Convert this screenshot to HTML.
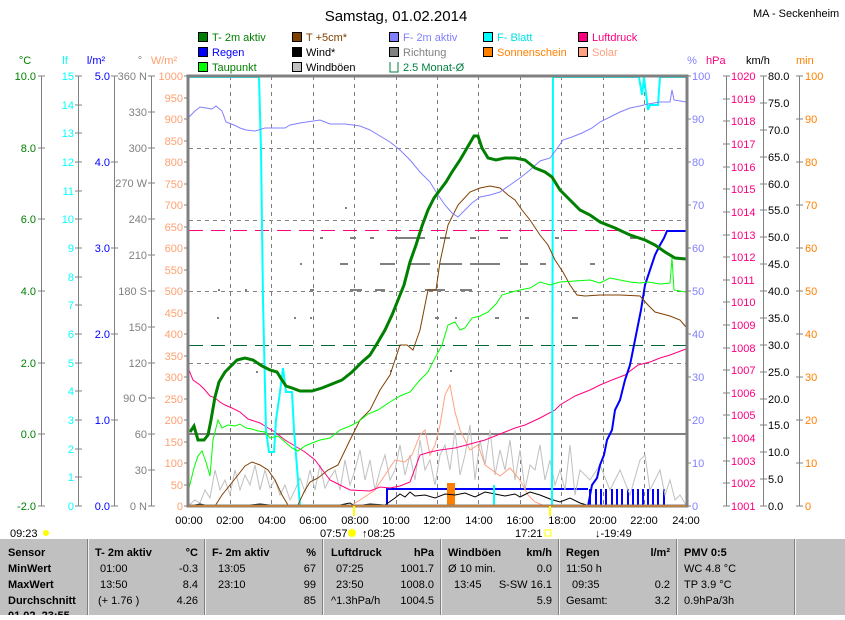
<!DOCTYPE html>
<html><head><meta charset="utf-8"><style>
body{margin:0;background:#fff;width:845px;height:615px;overflow:hidden;font-family:"Liberation Sans",sans-serif;}
svg text{font-family:"Liberation Sans",sans-serif;}
</style></head><body>
<svg width="845" height="615" viewBox="0 0 845 615" xmlns="http://www.w3.org/2000/svg">
<rect width="845" height="615" fill="#fff"/>
<text x="396" y="21" font-size="15" text-anchor="middle" fill="#000">Samstag, 01.02.2014</text>
<text x="753" y="17" font-size="11" fill="#000">MA - Seckenheim</text>
<!-- legend -->
<g font-size="11" stroke="#000" stroke-width="1">
<rect x="198.5" y="32.5" width="9" height="9" fill="#008000"/><rect x="292.5" y="32.5" width="9" height="9" fill="#804000"/><rect x="389.5" y="32.5" width="9" height="9" fill="#8080ff"/><rect x="483.5" y="32.5" width="9" height="9" fill="#00ffff"/><rect x="578.5" y="32.5" width="9" height="9" fill="#ff0080"/>
<rect x="198.5" y="47.5" width="9" height="9" fill="#0000ff"/><rect x="292.5" y="47.5" width="9" height="9" fill="#000"/><rect x="389.5" y="47.5" width="9" height="9" fill="#808080"/><rect x="483.5" y="47.5" width="9" height="9" fill="#ff8000"/><rect x="578.5" y="47.5" width="9" height="9" fill="#ffa080"/>
<rect x="198.5" y="62.5" width="9" height="9" fill="#00ff00"/><rect x="292.5" y="62.5" width="9" height="9" fill="#c0c0c0"/>
</g>
<path d="M390 62v10h8V62" fill="none" stroke="#008040"/>
<g font-size="11" stroke="none">
<text x="212" y="41" fill="#008000">T- 2m aktiv</text><text x="306" y="41" fill="#804000">T +5cm*</text><text x="403" y="41" fill="#8080ff">F- 2m aktiv</text><text x="497" y="41" fill="#00e0e0">F- Blatt</text><text x="592" y="41" fill="#ff0080">Luftdruck</text>
<text x="212" y="56" fill="#0000ff">Regen</text><text x="306" y="56" fill="#000">Wind*</text><text x="403" y="56" fill="#808080">Richtung</text><text x="497" y="56" fill="#ff8000">Sonnenschein</text><text x="592" y="56" fill="#ffa080">Solar</text>
<text x="212" y="71" fill="#008000">Taupunkt</text><text x="306" y="71" fill="#000">Windböen</text><text x="403" y="71" fill="#008040">2.5 Monat-Ø</text>
</g>
<!-- axis headers -->
<g font-size="11">
<text x="25" y="64" fill="#008000" text-anchor="middle">°C</text><text x="65" y="64" fill="#00ffff" text-anchor="middle">lf</text><text x="96" y="64" fill="#0000ff" text-anchor="middle">l/m²</text><text x="140" y="64" fill="#808080" text-anchor="middle">°</text><text x="164" y="64" fill="#ffa070" text-anchor="middle">W/m²</text>
<text x="692" y="64" fill="#8080ff" text-anchor="middle">%</text><text x="706" y="64" fill="#ff0080" text-anchor="start">hPa</text><text x="746" y="64" fill="#000">km/h</text><text x="796" y="64" fill="#ff8000">min</text>
</g>
<!-- axis lines -->
<g stroke="#808080" stroke-width="1">
<line x1="41.5" y1="76" x2="41.5" y2="506"/><line x1="78.5" y1="76" x2="78.5" y2="506"/><line x1="114.5" y1="76" x2="114.5" y2="506"/><line x1="151.5" y1="76" x2="151.5" y2="506"/>
<line x1="726.5" y1="76" x2="726.5" y2="506"/><line x1="763.5" y1="76" x2="763.5" y2="506"/><line x1="799.5" y1="76" x2="799.5" y2="506"/>
</g>
<!-- left tick labels -->
<g font-size="11" fill="#008000" text-anchor="end">
<text x="36" y="80">10.0</text><text x="36" y="152">8.0</text><text x="36" y="223">6.0</text><text x="36" y="295">4.0</text><text x="36" y="367">2.0</text><text x="36" y="438">0.0</text><text x="36" y="510">-2.0</text></g>
<g stroke="#808080"><path d="M38 76h7M38 148h7M38 219h7M38 291h7M38 363h7M38 434h7M38 506h7"/>
<path d="M75 76h7M75 105h7M75 133h7M75 162h7M75 191h7M75 219h7M75 248h7M75 277h7M75 305h7M75 334h7M75 363h7M75 391h7M75 420h7M75 449h7M75 477h7M75 506h7"/>
<path d="M111 76h7M111 162h7M111 248h7M111 334h7M111 420h7M111 506h7"/>
<path d="M148 76h7M148 112h7M148 148h7M148 183h7M148 219h7M148 255h7M148 291h7M148 327h7M148 363h7M148 398h7M148 434h7M148 470h7M148 506h7"/>
<path d="M723 76h7M723 99h7M723 121h7M723 144h7M723 167h7M723 189h7M723 212h7M723 235h7M723 257h7M723 280h7M723 302h7M723 325h7M723 348h7M723 370h7M723 393h7M723 415h7M723 438h7M723 461h7M723 483h7M723 506h7"/>
<path d="M760 76h7M760 103h7M760 130h7M760 157h7M760 184h7M760 210h7M760 237h7M760 264h7M760 291h7M760 318h7M760 345h7M760 372h7M760 399h7M760 425h7M760 452h7M760 479h7M760 506h7"/>
<path d="M796 76h7M796 119h7M796 162h7M796 205h7M796 248h7M796 291h7M796 334h7M796 377h7M796 420h7M796 463h7M796 506h7"/>
<path d="M184 76h4M184 98h4M184 119h4M184 141h4M184 162h4M184 184h4M184 205h4M184 227h4M184 248h4M184 270h4M184 291h4M184 313h4M184 334h4M184 356h4M184 377h4M184 399h4M184 420h4M184 442h4M184 463h4M184 485h4M184 506h4"/>
<path d="M687 76h4M687 119h4M687 162h4M687 205h4M687 248h4M687 291h4M687 334h4M687 377h4M687 420h4M687 463h4M687 506h4"/></g>
<g font-size="11" fill="#00ffff" text-anchor="end">
<text x="74" y="80">15</text><text x="74" y="109">14</text><text x="74" y="137">13</text><text x="74" y="166">12</text><text x="74" y="195">11</text><text x="74" y="223">10</text><text x="74" y="252">9</text><text x="74" y="281">8</text><text x="74" y="309">7</text><text x="74" y="338">6</text><text x="74" y="367">5</text><text x="74" y="395">4</text><text x="74" y="424">3</text><text x="74" y="453">2</text><text x="74" y="481">1</text><text x="74" y="510">0</text></g>
<g font-size="11" fill="#0000ff" text-anchor="end">
<text x="110" y="80">5.0</text><text x="110" y="166">4.0</text><text x="110" y="252">3.0</text><text x="110" y="338">2.0</text><text x="110" y="424">1.0</text><text x="110" y="510">0.0</text></g>
<g font-size="11" fill="#808080" text-anchor="end">
<text x="147" y="80">360 N</text><text x="147" y="116">330</text><text x="147" y="152">300</text><text x="147" y="187">270 W</text><text x="147" y="223">240</text><text x="147" y="259">210</text><text x="147" y="295">180 S</text><text x="147" y="331">150</text><text x="147" y="367">120</text><text x="147" y="402">90  O</text><text x="147" y="438">60</text><text x="147" y="474">30</text><text x="147" y="510">0   N</text></g>
<g font-size="11" fill="#ffa070" text-anchor="end">
<text x="183" y="80">1000</text><text x="183" y="102">950</text><text x="183" y="123">900</text><text x="183" y="145">850</text><text x="183" y="166">800</text><text x="183" y="188">750</text><text x="183" y="209">700</text><text x="183" y="231">650</text><text x="183" y="252">600</text><text x="183" y="274">550</text><text x="183" y="295">500</text><text x="183" y="317">450</text><text x="183" y="338">400</text><text x="183" y="360">350</text><text x="183" y="381">300</text><text x="183" y="403">250</text><text x="183" y="424">200</text><text x="183" y="446">150</text><text x="183" y="467">100</text><text x="183" y="489">50</text><text x="183" y="510">0</text></g>
<g font-size="11" fill="#8080ff">
<text x="692" y="80">100</text><text x="692" y="123">90</text><text x="692" y="166">80</text><text x="692" y="209">70</text><text x="692" y="252">60</text><text x="692" y="295">50</text><text x="692" y="338">40</text><text x="692" y="381">30</text><text x="692" y="424">20</text><text x="692" y="467">10</text><text x="692" y="510">0</text></g>
<g font-size="11" fill="#ff0080">
<text x="731" y="80">1020</text><text x="731" y="103">1019</text><text x="731" y="125">1018</text><text x="731" y="148">1017</text><text x="731" y="171">1016</text><text x="731" y="193">1015</text><text x="731" y="216">1014</text><text x="731" y="239">1013</text><text x="731" y="261">1012</text><text x="731" y="284">1011</text><text x="731" y="306">1010</text><text x="731" y="329">1009</text><text x="731" y="352">1008</text><text x="731" y="374">1007</text><text x="731" y="397">1006</text><text x="731" y="419">1005</text><text x="731" y="442">1004</text><text x="731" y="465">1003</text><text x="731" y="487">1002</text><text x="731" y="510">1001</text></g>
<g font-size="11" fill="#000">
<text x="768" y="80">80.0</text><text x="768" y="107">75.0</text><text x="768" y="134">70.0</text><text x="768" y="161">65.0</text><text x="768" y="188">60.0</text><text x="768" y="214">55.0</text><text x="768" y="241">50.0</text><text x="768" y="268">45.0</text><text x="768" y="295">40.0</text><text x="768" y="322">35.0</text><text x="768" y="349">30.0</text><text x="768" y="376">25.0</text><text x="768" y="403">20.0</text><text x="768" y="429">15.0</text><text x="768" y="456">10.0</text><text x="768" y="483">5.0</text><text x="768" y="510">0.0</text></g>
<g font-size="11" fill="#ff8000">
<text x="805" y="80">100</text><text x="805" y="123">90</text><text x="805" y="166">80</text><text x="805" y="209">70</text><text x="805" y="252">60</text><text x="805" y="295">50</text><text x="805" y="338">40</text><text x="805" y="381">30</text><text x="805" y="424">20</text><text x="805" y="467">10</text><text x="805" y="510">0</text></g>
<!-- grid -->
<g stroke="#808080" stroke-dasharray="4,4" stroke-width="1">
<path d="M230.5 76v430M271.5 76v430M313.5 76v430M354.5 76v430M396.5 76v430M437.5 76v430M478.5 76v430M520.5 76v430M561.5 76v430M603.5 76v430M644.5 76v430"/>
<path d="M189 148.5h497M189 220.5h497M189 291.5h497M189 363.5h497"/></g>
<line x1="189" y1="230.5" x2="686" y2="230.5" stroke="#ff0080" stroke-dasharray="14,8"/>
<line x1="189" y1="345.5" x2="686" y2="345.5" stroke="#006633" stroke-dasharray="14,8"/>
<line x1="189" y1="434" x2="686" y2="434" stroke="#808080" stroke-width="2"/>
<!-- direction dots -->
<g fill="#808080">
<rect x="345" y="207" width="2" height="2"/><rect x="320" y="237" width="3" height="2"/><rect x="350" y="237" width="6" height="2"/><rect x="370" y="237" width="4" height="2"/><rect x="395" y="237" width="30" height="2"/><rect x="440" y="237" width="10" height="2"/><rect x="470" y="237" width="6" height="2"/><rect x="500" y="237" width="8" height="2"/><rect x="555" y="237" width="4" height="2"/><rect x="630" y="237" width="6" height="2"/>
<rect x="300" y="263" width="2" height="2"/><rect x="340" y="263" width="8" height="2"/><rect x="380" y="263" width="15" height="2"/><rect x="410" y="263" width="20" height="2"/><rect x="440" y="263" width="22" height="2"/><rect x="470" y="263" width="30" height="2"/><rect x="520" y="263" width="8" height="2"/><rect x="540" y="263" width="6" height="2"/><rect x="590" y="263" width="5" height="2"/>
<rect x="218" y="289" width="2" height="2"/><rect x="245" y="289" width="2" height="2"/><rect x="310" y="289" width="4" height="2"/><rect x="350" y="289" width="12" height="2"/><rect x="375" y="289" width="10" height="2"/><rect x="425" y="289" width="20" height="2"/><rect x="460" y="289" width="12" height="2"/>
<rect x="217" y="317" width="2" height="2"/><rect x="294" y="317" width="2" height="2"/><rect x="310" y="317" width="2" height="2"/><rect x="435" y="317" width="4" height="2"/><rect x="455" y="317" width="2" height="2"/><rect x="495" y="317" width="4" height="2"/><rect x="525" y="317" width="4" height="2"/><rect x="572" y="317" width="6" height="2"/>
<rect x="256" y="371" width="2" height="2"/><rect x="390" y="370" width="2" height="2"/><rect x="450" y="370" width="2" height="2"/></g>
<!-- blue rectangle + bars -->
<polyline points="387,506 387,489 588,489" fill="none" stroke="#0000ff" stroke-width="2"/>
<g stroke="#0000ff" stroke-width="2"><path d="M590 489v17M596 489v17M601 489v17M606 489v17M612 489v17M617 489v17M622 489v17M628 489v17M633 489v17M638 489v17M643 489v17M648 489v17M653 489v17M658 489v17M664 489v17"/></g>
<rect x="447" y="483" width="8" height="23" fill="#ff8000"/>
<!-- gusts -->
<polyline fill="none" stroke="#c0c0c0" stroke-width="1" points="189,505 195,500 200,503 205,490 210,498 215,470 220,490 225,480 230,495 235,470 240,490 245,475 250,485 255,465 260,490 265,470 270,488 275,480 280,495 285,485 290,500 295,490 300,478 305,492 310,470 315,490 320,465 325,488 330,478 335,470 340,490 345,460 350,485 355,470 360,450 365,480 370,460 375,490 380,470 385,455 390,480 395,470 400,445 405,475 410,455 415,480 420,440 425,470 430,460 435,485 440,455 445,445 450,470 455,430 460,475 465,455 470,425 475,480 480,440 485,465 490,430 495,475 500,450 505,470 510,440 515,480 520,450 525,490 530,465 535,470 540,445 545,480 550,460 555,485 560,470 565,490 570,445 575,495 580,470 590,480 600,465 610,490 620,470 630,495 640,460 645,455 650,490 660,470 665,495 670,480 675,500 680,495 686,505"/>
<!-- solar -->
<polyline fill="none" stroke="#ffa080" stroke-width="1" points="189,506 350,506 360,500 375,490 385,475 395,460 405,462 412,455 420,435 425,430 430,455 435,445 440,425 445,395 450,385 455,412 460,430 465,440 470,450 478,445 485,465 492,470 500,476 510,468 520,480 528,495 535,502 545,506 686,506"/>
<!-- wind -->
<polyline fill="none" stroke="#000" stroke-width="1" points="189,506 200,504 210,506 220,505 240,506 260,504 280,506 300,505 320,506 340,505 350,503 355,506 370,504 385,505 395,498 400,494 405,497 410,492 415,496 425,495 435,498 445,494 455,495 465,493 475,497 485,492 495,494 505,496 515,494 520,497 530,492 540,495 550,499 560,502 570,498 580,503 590,506 600,505 620,506 640,505 660,506 686,506"/>
<!-- pressure -->
<polyline fill="none" stroke="#ff0080" stroke-width="1" points="189,370 193,380 200,385 205,390 210,396 215,398 220,402 225,405 232,408 240,412 248,419 260,423 268,428 275,432 285,440 295,446 305,452 315,460 330,480 340,485 350,490 370,491 380,487 390,488 400,486 410,482 420,455 430,452 440,450 455,448 470,444 485,440 495,436 505,432 515,428 525,425 540,418 555,410 560,405 575,396 590,390 600,385 612,380 625,375 638,365 650,362 660,358 670,355 678,352 686,349"/>
<!-- rain cumulative -->
<polyline fill="none" stroke="#0000ff" stroke-width="2" points="588,506 592,485 597,478 600,465 604,455 607,440 612,430 615,410 620,400 625,380 630,365 633,350 637,330 641,310 645,285 650,270 655,255 660,245 664,238 667,231 686,231"/>
<!-- F-Blatt -->
<polyline fill="none" stroke="#00ffff" stroke-width="2" points="189,77 259,77 261,150 263,300 266,430 269,452 274,452 276,420 280,392 283,368 286,392 292,392 294,430 298,480 300,506 552,506 553,77 639,77 642,95 644,77 648,110 650,105 658,105 660,77 686,77"/>
<line x1="494" y1="485" x2="494" y2="506" stroke="#00ffff" stroke-width="2"/>
<!-- T+5cm -->
<polyline fill="none" stroke="#804000" stroke-width="1" points="189,506 215,506 222,495 230,485 238,475 245,466 252,462 260,465 268,470 275,480 282,495 288,505 298,505 304,492 310,482 318,478 328,470 338,465 350,440 360,420 370,410 380,390 390,375 400,345 407,345 413,350 420,330 428,290 436,290 440,262 448,225 458,205 470,192 480,188 490,186 500,188 508,195 515,200 522,210 530,220 540,235 548,245 555,260 563,272 570,285 577,295 585,296 600,295 620,295 640,296 648,305 655,312 670,316 680,320 686,327"/>
<!-- dewpoint -->
<polyline fill="none" stroke="#00ff00" stroke-width="1" points="189,488 194,468 198,456 202,451 206,462 210,476 213,440 218,420 222,428 228,425 235,426 240,424 246,428 252,429 258,431 265,432 270,438 278,436 285,442 292,448 298,451 305,446 312,443 320,440 330,438 340,430 350,426 358,422 368,414 378,410 390,402 400,396 410,392 420,380 428,372 435,358 442,345 448,325 455,322 460,330 465,328 472,318 480,316 488,312 496,304 502,295 512,292 520,290 530,288 540,282 550,285 560,282 575,281 590,280 600,283 610,278 620,280 630,282 640,283 648,282 660,284 670,283 672,258 674,290 686,292"/>
<!-- F-2m -->
<polyline fill="none" stroke="#8080ff" stroke-width="1" points="189,117 195,111 200,107 206,108 212,109 216,106 222,111 226,122 234,125 240,128 246,130 255,131 265,128 285,128 290,125 300,123 320,120 330,124 345,124 360,126 370,130 380,136 390,142 400,150 410,160 420,172 430,182 438,195 445,205 452,213 458,217 465,210 472,203 480,197 490,195 500,192 510,185 520,178 530,170 540,161 550,158 556,150 563,140 572,137 582,133 592,128 600,122 610,117 620,112 630,108 640,106 648,104 660,102 670,102 672,90 674,100 686,102"/>
<!-- T-2m -->
<polyline fill="none" stroke="#008000" stroke-width="3" points="190,432 194,426 198,440 204,440 208,435 211,420 215,397 219,382 225,372 231,366 237,360 245,358 253,360 262,366 270,370 277,372 282,380 286,386 292,388 300,391 312,391 322,388 332,384 342,380 352,372 362,362 370,355 378,342 385,330 392,315 398,300 404,285 410,262 416,245 422,226 428,210 434,198 440,190 446,182 452,172 460,160 467,148 474,136 478,136 482,148 488,158 496,160 505,158 515,158 525,160 535,168 545,172 552,177 560,190 570,200 580,210 590,215 600,222 615,228 630,235 645,240 655,245 665,252 675,258 686,259"/>
<!-- frame -->
<rect x="188" y="76" width="499" height="430" fill="none" stroke="#808080" stroke-width="3"/>
<line x1="189" y1="506" x2="686" y2="506" stroke="#ff8000" stroke-width="1"/>
<line x1="354" y1="506" x2="354" y2="516" stroke="#ffff00" stroke-width="2"/>
<line x1="550" y1="506" x2="550" y2="516" stroke="#ffff00" stroke-width="2"/>
<!-- time labels -->
<g font-size="11" fill="#000" text-anchor="middle">
<text x="189" y="524">00:00</text><text x="230" y="524">02:00</text><text x="272" y="524">04:00</text><text x="313" y="524">06:00</text><text x="355" y="524">08:00</text><text x="396" y="524">10:00</text><text x="437" y="524">12:00</text><text x="479" y="524">14:00</text><text x="520" y="524">16:00</text><text x="562" y="524">18:00</text><text x="603" y="524">20:00</text><text x="644" y="524">22:00</text><text x="686" y="524">24:00</text></g>
<g font-size="11" fill="#000">
<text x="10" y="537">09:23</text><circle cx="46" cy="533" r="3" fill="#ffff00"/>
<text x="320" y="537">07:57</text><circle cx="352" cy="533" r="4" fill="#ffff00"/><text x="362" y="537">↑08:25</text>
<text x="515" y="537">17:21</text><rect x="545" y="530" width="6" height="6" fill="none" stroke="#ffff00"/>
<text x="595" y="537">↓-19:49</text></g>
<!-- table -->
<rect x="0" y="539" width="845" height="76" fill="#c0c0c0"/>
<g stroke="#f0f0f0" stroke-width="1"><path d="M88.5 539v76M205.5 539v76M323.5 539v76M441.5 539v76M559.5 539v76M677.5 539v76M795.5 539v76"/></g>
<g stroke="#808080" stroke-width="1"><path d="M87.5 539v76M204.5 539v76M322.5 539v76M440.5 539v76M558.5 539v76M676.5 539v76M794.5 539v76"/></g>
<g font-size="11" fill="#000">
<g font-weight="bold"><text x="8" y="556">Sensor</text><text x="8" y="572">MinWert</text><text x="8" y="588">MaxWert</text><text x="8" y="604">Durchschnitt</text><text x="8" y="619">01.02. 23:55</text>
<text x="95" y="556">T- 2m aktiv</text><text x="198" y="556" text-anchor="end">°C</text>
<text x="212" y="556">F- 2m aktiv</text><text x="316" y="556" text-anchor="end">%</text>
<text x="331" y="556">Luftdruck</text><text x="434" y="556" text-anchor="end">hPa</text>
<text x="448" y="556">Windböen</text><text x="552" y="556" text-anchor="end">km/h</text>
<text x="566" y="556">Regen</text><text x="670" y="556" text-anchor="end">l/m²</text>
<text x="684" y="556">PMV 0:5</text></g>
<text x="100" y="572">01:00</text><text x="198" y="572" text-anchor="end">-0.3</text>
<text x="100" y="588">13:50</text><text x="198" y="588" text-anchor="end">8.4</text>
<text x="98" y="604">(+ 1.76 )</text><text x="198" y="604" text-anchor="end">4.26</text>
<text x="218" y="572">13:05</text><text x="316" y="572" text-anchor="end">67</text>
<text x="218" y="588">23:10</text><text x="316" y="588" text-anchor="end">99</text>
<text x="316" y="604" text-anchor="end">85</text>
<text x="336" y="572">07:25</text><text x="434" y="572" text-anchor="end">1001.7</text>
<text x="336" y="588">23:50</text><text x="434" y="588" text-anchor="end">1008.0</text>
<text x="331" y="604">^1.3hPa/h</text><text x="434" y="604" text-anchor="end">1004.5</text>
<text x="448" y="572">Ø 10 min.</text><text x="552" y="572" text-anchor="end">0.0</text>
<text x="454" y="588">13:45</text><text x="552" y="588" text-anchor="end">S-SW 16.1</text>
<text x="552" y="604" text-anchor="end">5.9</text>
<text x="566" y="572">11:50 h</text>
<text x="572" y="588">09:35</text><text x="670" y="588" text-anchor="end">0.2</text>
<text x="566" y="604">Gesamt:</text><text x="670" y="604" text-anchor="end">3.2</text>
<text x="684" y="572">WC 4.8 °C</text><text x="684" y="588">TP 3.9 °C</text><text x="684" y="604">0.9hPa/3h</text>
</g>
</svg>
</body></html>
